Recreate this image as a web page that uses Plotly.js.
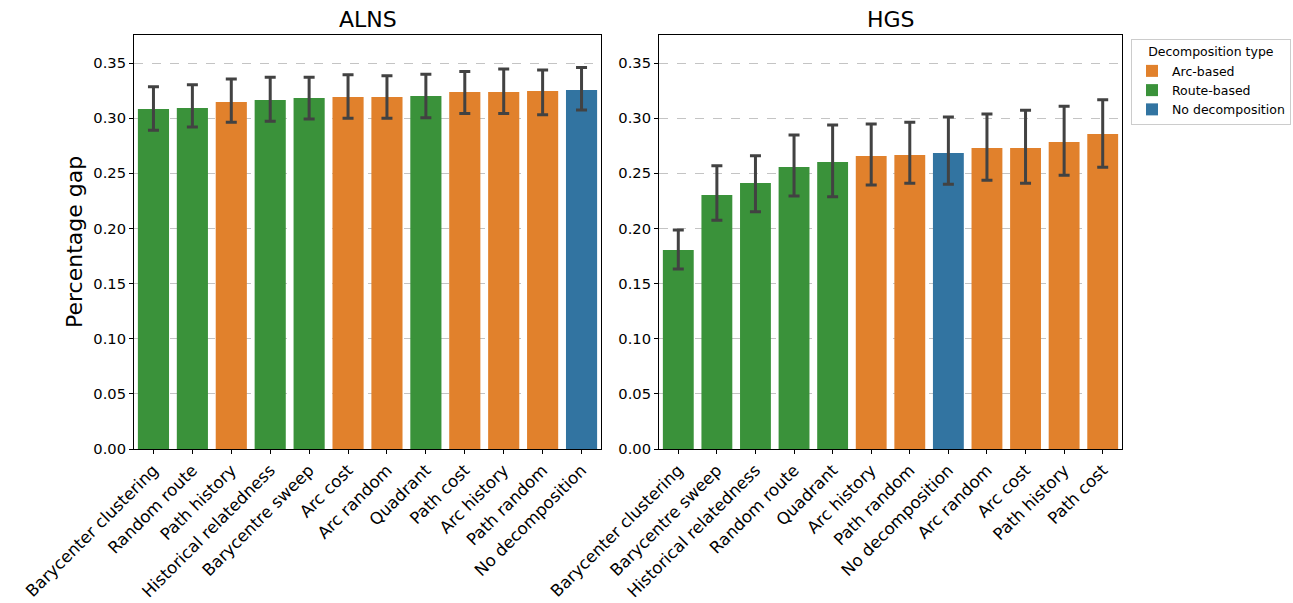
<!DOCTYPE html>
<html>
<head>
<meta charset="utf-8">
<script src="https://cdn.plot.ly/plotly-3.0.1.min.js"></script>
<style>html,body{margin:0;padding:0;background:#fff;}#plot{width:1293px;height:603px;}</style>
</head>
<body>
<div id="plot"></div>
<script>
// ---- Data ----
const alnsMethods = ["Barycenter clustering","Random route","Path history","Historical relatedness","Barycentre sweep","Arc cost","Arc random","Quadrant","Path cost","Arc history","Path random","No decomposition"];
const alnsTypes   = ["route","route","arc","route","route","arc","arc","route","arc","arc","arc","none"];
const alnsMean    = [0.3083,0.3092,0.3146,0.3165,0.3183,0.3192,0.3192,0.3200,0.3237,0.3237,0.3246,0.3255];
const alnsUpper   = [0.3285,0.3303,0.3355,0.3370,0.3370,0.3394,0.3385,0.3397,0.3424,0.3446,0.3437,0.3460];
const alnsLower   = [0.2890,0.2920,0.2962,0.2971,0.2992,0.2998,0.3000,0.3004,0.3043,0.3043,0.3031,0.3074];

const hgsMethods = ["Barycenter clustering","Barycentre sweep","Historical relatedness","Random route","Quadrant","Arc history","Path random","No decomposition","Arc random","Arc cost","Path history","Path cost"];
const hgsTypes   = ["route","route","route","route","route","arc","arc","none","arc","arc","arc","arc"];
const hgsMean    = [0.1804,0.2303,0.2412,0.2557,0.2602,0.2657,0.2666,0.2684,0.2729,0.2729,0.2784,0.2856];
const hgsUpper   = [0.1986,0.2569,0.2660,0.2847,0.2938,0.2947,0.2962,0.3010,0.3037,0.3071,0.3107,0.3167];
const hgsLower   = [0.1632,0.2074,0.2152,0.2294,0.2288,0.2394,0.2409,0.2400,0.2436,0.2409,0.2482,0.2554];

const typeKeys   = ["arc","route","none"];
const typeNames  = {arc:"Arc-based", route:"Route-based", none:"No decomposition"};
const typeColors = {arc:"#e1812c", route:"#3a923a", none:"#3274a1"};
const yTicks     = [0,0.05,0.10,0.15,0.20,0.25,0.30,0.35];

// ---- Build traces ----
function buildTraces(methods, types, mean, upper, lower, xa, ya, showLegend){
  const traces = [];
  typeKeys.forEach(k=>{
    const x=[],y=[],ep=[],em=[];
    methods.forEach((m,i)=>{
      if(types[i]===k){x.push(m);y.push(mean[i]);ep.push(upper[i]-mean[i]);em.push(mean[i]-lower[i]);}
    });
    traces.push({
      type:"bar", x:x, y:y, xaxis:xa, yaxis:ya, width:0.8,
      name:typeNames[k], legendgroup:k, showlegend:showLegend,
      marker:{color:typeColors[k], line:{width:0}},
      error_y:{type:"data", symmetric:false, array:ep, arrayminus:em, color:"#424242", thickness:3, width:5.5},
      hoverinfo:"x+y"
    });
  });
  return traces;
}
const data = [].concat(
  buildTraces(alnsMethods, alnsTypes, alnsMean, alnsUpper, alnsLower, "x", "y", true),
  buildTraces(hgsMethods, hgsTypes, hgsMean, hgsUpper, hgsLower, "x2", "y2", false)
);

const W=1293,H=603;
const yTickFont={family:"DejaVu Sans",size:14.7,color:"#000"};
const xTickFont={family:"DejaVu Sans",size:16.6,color:"#000"};
function xAxis(dom, cats, anchor){
  return {domain:dom, anchor:anchor, type:"category", categoryorder:"array", categoryarray:cats,
    range:[-0.5,11.5], tickangle:-45, tickfont:xTickFont, ticks:"outside", ticklen:4, tickcolor:"#000",
    showline:true, linecolor:"#000", linewidth:1, mirror:true, showgrid:false, zeroline:false, fixedrange:true};
}
function yAxis(anchor){
  return {domain:[(H-449)/H,(H-35)/H], anchor:anchor, range:[0,0.3754], tickvals:yTicks, tickformat:".2f",
    tickfont:yTickFont, ticks:"outside", ticklen:4, tickcolor:"#000",
    showline:true, linecolor:"#000", linewidth:1, mirror:true,
    showgrid:true, gridcolor:"#c4c4c4", griddash:"dash", gridwidth:1, zeroline:false, fixedrange:true};
}

const layout = {
  width:W, height:H, margin:{l:0,r:0,t:0,b:0}, paper_bgcolor:"#fff", plot_bgcolor:"#fff",
  font:{family:"DejaVu Sans", color:"#000"},
  barmode:"overlay", bargap:0.2,
  xaxis: xAxis([134/W,601/W], alnsMethods, "y"),
  yaxis: yAxis("x"),
  xaxis2: xAxis([659/W,1122/W], hgsMethods, "y2"),
  yaxis2: yAxis("x2"),
  legend:{x:1131/W, y:(H-39)/H, xanchor:"left", yanchor:"top",
    title:{text:"Decomposition type", font:{size:12.5,family:"DejaVu Sans"}, side:"top center"},
    font:{size:12.5,family:"DejaVu Sans"}, bordercolor:"#cccccc", borderwidth:1, bgcolor:"#fff",
    traceorder:"normal", itemwidth:30, tracegroupgap:0},
  annotations:[
    {text:"ALNS", x:(134+601)/2/W, y:(H-20)/H, xref:"paper", yref:"paper", showarrow:false, font:{size:22,family:"DejaVu Sans"}, xanchor:"center", yanchor:"middle"},
    {text:"HGS", x:(659+1122)/2/W, y:(H-20)/H, xref:"paper", yref:"paper", showarrow:false, font:{size:22,family:"DejaVu Sans"}, xanchor:"center", yanchor:"middle"},
    {text:"Percentage gap", x:75/W, y:(H-242)/H, xref:"paper", yref:"paper", showarrow:false, textangle:-90, font:{size:22,family:"DejaVu Sans"}, xanchor:"center", yanchor:"middle"}
  ]
};
Plotly.newPlot("plot", data, layout, {displayModeBar:false, staticPlot:true});
</script>
</body>
</html>
